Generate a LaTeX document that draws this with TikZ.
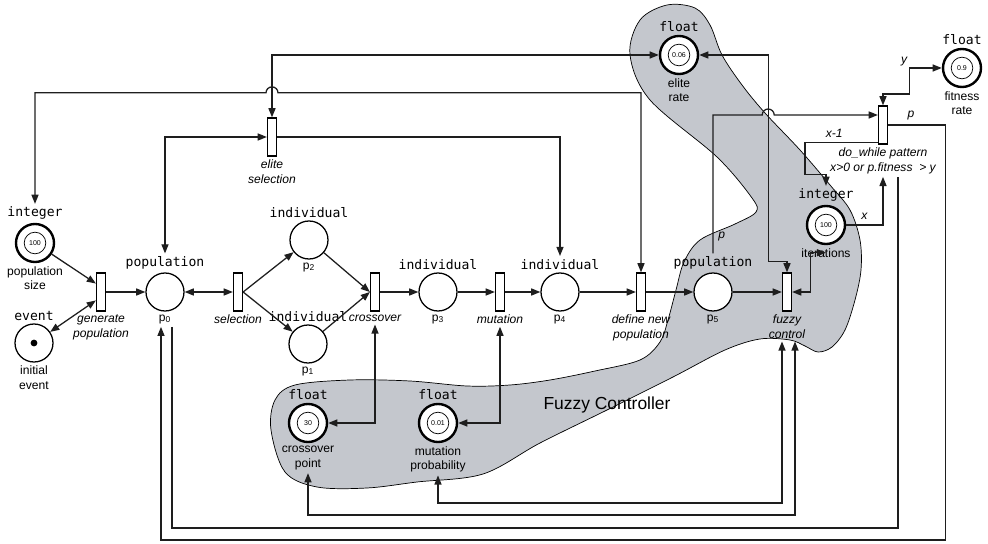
\documentclass[tikz,border=0pt]{standalone}
\usepackage{fontspec}
\setmainfont{Liberation Sans}
\newfontfamily\typefont{DejaVu Sans Mono}
\usepackage{tikz}
\usetikzlibrary{arrows.meta, positioning, calc}

\definecolor{blobgray}{RGB}{196,199,205}
\definecolor{arcgray}{RGB}{30,30,30}

\begin{document}
\begin{tikzpicture}[
  x=0.025cm, y=-0.025cm,
  font=\fontsize{8.6}{10.5}\selectfont,
  place/.style={circle, draw, fill=white, line width=0.9pt, minimum size=0.95cm, inner sep=0pt},
  const/.style={place, line width=1.7pt, font=\fontsize{5}{6}\selectfont,
    path picture={\draw[black, line width=0.5pt] (path picture bounding box.center) circle (0.27cm);}},
  marked/.style={place, path picture={\fill[black] (path picture bounding box.center) circle (2.4pt);}},
  trans/.style={rectangle, draw, fill=white, line width=0.9pt, minimum width=0.225cm, minimum height=0.95cm, inner sep=0pt},
  typ/.style={font=\typefont\fontsize{9.3}{11}\selectfont, inner sep=2pt},
  nm/.style={font=\fontsize{8.6}{10.5}\selectfont, align=center, inner sep=2pt},
  tlab/.style={font=\itshape\fontsize{8.6}{10.5}\selectfont, align=center, inner sep=2pt},
  flow/.style={draw=arcgray, line width=0.9pt},
  >={Triangle[length=6.5pt, width=5pt]},
]
\useasboundingbox (0,0) rectangle (988,544);

% fuzzy controller region
\draw[fill=blobgray, line width=0.5pt] plot[smooth cycle, tension=0.55] coordinates {
  (640,20) (667,5) (695,8) (710,25) (722,55) (742,85) (765,113) (800,150)
  (830,185) (850,210) (860,240) (861,270) (855,300) (845,330) (832,347)
  (818,352) (805,346) (790,340) (760,339) (725,350) (673,377) (607,410)
  (540,443) (483,474) (417,482) (367,488) (317,487) (285,472) (271,430)
  (275,400) (295,385) (350,380) (410,381) (467,386) (510,385) (550,380)
  (595,371) (640,360) (660,342) (668,320) (676,290) (684,262) (700,240)
  (735,224) (756,212) (752,198) (717,157) (650,100) (630,55)};
\node[font=\fontsize{12.4}{14}\selectfont] (fzname) at (607,405) {Fuzzy Controller};

% places and transitions
\node[const, label={[typ, name=psizet]above:integer}, label={[nm]below:{population\\size}}] (psize) at (35,243) {100};
\node[marked, label={[typ]above:event}, label={[nm]below:{initial\\event}}] (event) at (34,343) {};
\node[trans, label={[tlab]below:{generate\\population}}] (gen) at (101,292) {};
\node[place, label={[typ, name=p0t]above:population}, label={[nm, name=p0l]below:p\textsubscript{0}}] (p0) at (165,292) {};
\node[trans, label={[tlab]below:selection}] (sel) at (238,292) {};
\node[place, label={[typ]above:individual}, label={[nm]below:p\textsubscript{2}}] (p2) at (309,240) {};
\node[place, label={[typ]above:individual}, label={[nm]below:p\textsubscript{1}}] (p1) at (308,344) {};
\node[trans, label={[tlab, name=crossl]below:crossover}] (cross) at (375,292) {};
\node[place, label={[typ]above:individual}, label={[nm]below:p\textsubscript{3}}] (p3) at (438,292) {};
\node[trans, label={[tlab, name=mutl]below:mutation}] (mut) at (500,292) {};
\node[place, label={[typ, name=p4t]above:individual}, label={[nm]below:p\textsubscript{4}}] (p4) at (560,292) {};
\node[trans, label={[tlab]below:{define new\\population}}] (defpop) at (641,292) {};
\node[place, label={[typ, name=p5t]above:population}, label={[nm]below:p\textsubscript{5}}] (p5) at (713,292) {};
\node[trans, label={[tlab, name=fuzzyl]below:{fuzzy\\control}}] (fuzzy) at (787,292) {};
\node[const, label={[typ, name=itert]above:integer}, label={[nm, name=iterl]below:iterations}] (iter) at (826,225) {100};
\node[trans, label={[tlab, name=dowl]below:{do\_while pattern\\x>0 or p.fitness \ > y}}] (dowhile) at (883,125) {};
\node[const, label={[typ]above:float}, label={[nm]below:{fitness\\rate}}] (fit) at (962,68) {0.9};
\node[const, label={[typ]above:float}, label={[nm]below:{elite\\rate}}] (elite) at (679,55) {0.06};
\node[trans, label={[tlab]below:{elite\\selection}}] (esel) at (272,137) {};
\node[const, label={[typ]above:float}, label={[nm, name=cpointl]below:{crossover\\point}}] (cpoint) at (308,423) {30};
\node[const, label={[typ]above:float}, label={[nm, name=mprobl]below:{mutation\\probability}}] (mprob) at (438,423) {0.01};

% helper points
\coordinate (lowA) at (0,503);
\coordinate (lowB) at (0,515);
\coordinate (lowC) at (0,528);
\coordinate (lowD) at (0,540);
\coordinate (fzin1) at ($(fuzzyl.south)+(-5,0)$);
\coordinate (fzin2) at ($(fuzzyl.south)+(8,0)$);
\coordinate (p0in) at ($(p0l.south)+(-4,0)$);
\coordinate (p0out) at ($(p0l.south)+(7,0)$);
\coordinate (dwout) at ($(dowl.south)+(15,0)$);
\coordinate (rightO) at ($(dowhile.east)+(57,0)$);
\coordinate (topL) at ($(psizet.north)+(0,-111)$);
\coordinate (ev) at ($(elite.east)+(69,0)$);
\coordinate (dwin) at ($(dowhile.west)+(0,-10)$);
\coordinate (ystep) at ($(fit.west)+(-32,26)$);

% main flow
\draw[flow,->] (psize) -- ([yshift=6pt]gen.west);
\draw[flow,<->] (event) -- ([yshift=-6pt]gen.west);
\draw[flow,->] (gen) -- (p0);
\draw[flow,<->] (p0) -- (sel);
\draw[flow,->] (sel.east) -- (p2);
\draw[flow,->] (sel.east) -- (p1);
\draw[flow,->] (p2) -- (cross.west);
\draw[flow,->] (p1) -- (cross.west);
\draw[flow,->] (cross) -- (p3);
\draw[flow,->] (p3) -- (mut);
\draw[flow,->] (mut) -- (p4);
\draw[flow,->] (p4) -- (defpop);
\draw[flow,->] (defpop) -- (p5);
\draw[flow,->] (p5) -- (fuzzy);

% crossover and mutation parameters
\draw[flow,<->] (cross |- crossl.south) |- (cpoint);
\draw[flow,<->] (mut |- mutl.south) |- (mprob);
\draw[flow,<->] (mprobl.south) -- (mprobl.south |- lowA) -| (fzin1);
\draw[flow,<->] (cpointl.south) -- (cpointl.south |- lowB) -| (fzin2);

% elitism
\draw[flow,<->] (esel.north) |- (elite);
\draw[flow,<->] (esel.west) -| (p0t.north);
\draw[flow,->] (esel.east) -| (p4t.north);
\draw[flow,<->] (psizet.north) -- (topL) -- ($(esel |- topL)+(-6,0)$)
  arc[start angle=180, end angle=0, radius=0.15cm] -| (defpop.north);
\draw[flow,<->] (elite) -- (ev) |- ($(fuzzy.north)+(0,-11)$) -- (fuzzy.north);

% do_while loop
\draw[flow,->] (p5t.north) |- ($(ev |- dwin)+(-6,0)$) node[pos=0.06, right] (lblp) {\textit{p}}
  arc[start angle=180, end angle=0, radius=0.15cm] -- (dwin);
\draw[flow,->] (iter.east) -| (dowhile |- dowl.south) node[pos=0.25, above] (lblx) {\textit{x}};
\draw[flow,->] ($(dowhile.south west)+(0,-2)$) -| ($(itert.north)+(-21,-11)$) node[pos=0.3, above] (lblxm) {\textit{x-1}} -| (itert.north);
\draw[flow,<->] (fuzzy.east) -- ++(18,0) |- (iterl.center);
\draw[flow,<->] (dowhile.north) |- (ystep) |- (fit) node[pos=0.5, above left, inner sep=1pt] (lbly) {\textit{y}};
\draw[flow,->] (dowhile.east) -- (rightO) node[pos=0.4, above] (lblp2) {\textit{p}} -- (rightO |- lowD) -| (p0in);
\draw[flow] (p0out) -- (p0out |- lowC) -| (dwout);

\end{tikzpicture}
\end{document}
